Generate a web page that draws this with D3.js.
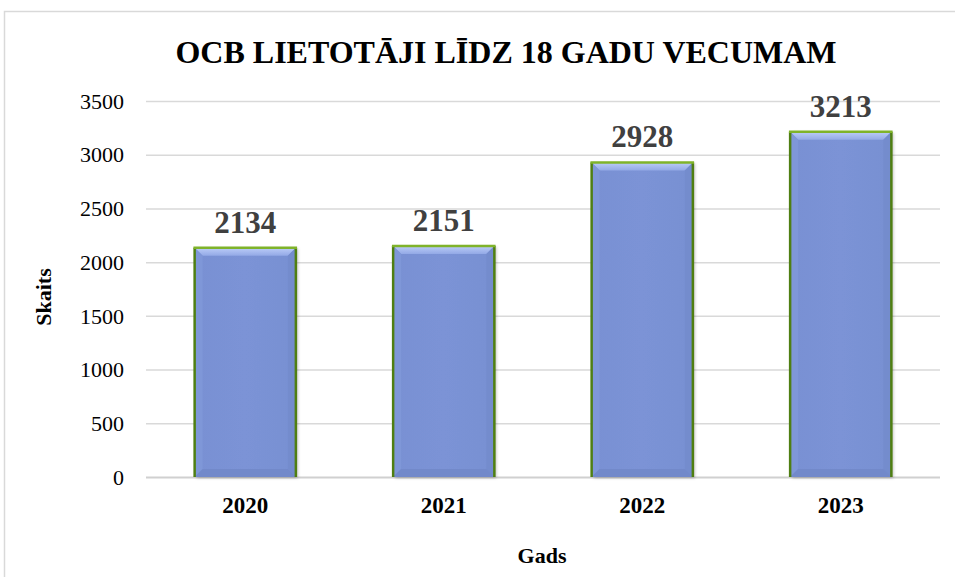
<!DOCTYPE html>
<html>
<head>
<meta charset="utf-8">
<script src="https://cdn.jsdelivr.net/npm/d3@7"></script>
<style>
  html, body { margin: 0; padding: 0; background: #fff; }
  svg { display: block; }
  text { font-family: "Times New Roman", "Liberation Serif", serif; }
</style>
</head>
<body>
<svg id="chart" width="955" height="577"></svg>
<script>
const title = "OCB LIETOTĀJI LĪDZ 18 GADU VECUMAM";
const categories = ["2020", "2021", "2022", "2023"];
const values = [2134, 2151, 2928, 3213];
const yTicks = [0, 500, 1000, 1500, 2000, 2500, 3000, 3500];
const yTitle = "Skaits";
const xTitle = "Gads";

const svg = d3.select("#chart");
const plot = { left: 146, right: 940, top: 101, bottom: 477 };

// chart border
svg.append("rect").attr("x", 4.5).attr("y", 11.5).attr("width", 1000).attr("height", 700)
  .attr("fill", "#fff").attr("stroke", "#d9d9d9").attr("stroke-width", 1.5);

const x = d3.scaleBand().domain(categories).range([plot.left, plot.right])
  .paddingInner(0.49).paddingOuter(0.245);
const y = d3.scaleLinear().domain([0, 3500]).range([plot.bottom, plot.top]);

// defs
const defs = svg.append("defs");
const gTop = defs.append("linearGradient").attr("id", "gTop").attr("x1", 0).attr("y1", 0).attr("x2", 0).attr("y2", 1);
gTop.append("stop").attr("offset", "0%").attr("stop-color", "#bccdf8");
gTop.append("stop").attr("offset", "100%").attr("stop-color", "#93a9e6");
const gBody = defs.append("linearGradient").attr("id", "gBody").attr("x1", 0).attr("y1", 0).attr("x2", 1).attr("y2", 0);
gBody.append("stop").attr("offset", "0%").attr("stop-color", "#7990d3");
gBody.append("stop").attr("offset", "50%").attr("stop-color", "#7b93d6");
gBody.append("stop").attr("offset", "100%").attr("stop-color", "#7890d2");
const shadow = defs.append("filter").attr("id", "shadow").attr("x", "-10%").attr("y", "-10%").attr("width", "130%").attr("height", "130%");
shadow.append("feDropShadow").attr("dx", 2).attr("dy", 1).attr("stdDeviation", 1.5).attr("flood-color", "#000").attr("flood-opacity", 0.25);

// y axis with gridlines
const yAxis = d3.axisLeft(y).tickValues(yTicks).tickSize(0).tickPadding(0).tickFormat(d3.format("d"));
const yg = svg.append("g").attr("transform", `translate(${plot.left},0)`).call(yAxis);
yg.select(".domain").remove();
yg.selectAll(".tick text").attr("x", -22).attr("dy", "0.33em")
  .attr("font-size", 22).attr("fill", "#000")
  .style("font-family", '"Times New Roman", "Liberation Serif", serif');
yg.selectAll(".tick").append("line")
  .attr("x1", 0).attr("x2", plot.right - plot.left)
  .attr("stroke", d => d === 0 ? "#d0d0d0" : "#d9d9d9")
  .attr("stroke-width", d => d === 0 ? 2 : 1.5);

// bars
const b = 8;
const bars = svg.append("g").selectAll("g.bar").data(values).join("g").attr("class", "bar");
bars.each(function(v, i) {
  const g = d3.select(this);
  const x0 = x(categories[i]), w = x.bandwidth();
  const y0 = y(v), y1 = y(0);
  g.append("rect").attr("x", x0).attr("y", y0).attr("width", w).attr("height", y1 - y0)
    .attr("fill", "url(#gBody)").attr("filter", "url(#shadow)");
  // bevels
  g.append("path").attr("d", `M${x0},${y0}L${x0 + w},${y0}L${x0 + w - b},${y0 + b}L${x0 + b},${y0 + b}Z`)
    .attr("fill", "url(#gTop)");
  g.append("path").attr("d", `M${x0},${y0}L${x0 + b},${y0 + b}L${x0 + b},${y1 - b}L${x0},${y1}Z`)
    .attr("fill", "#7f97d8");
  g.append("path").attr("d", `M${x0 + w},${y0}L${x0 + w - b},${y0 + b}L${x0 + w - b},${y1 - b}L${x0 + w},${y1}Z`)
    .attr("fill", "#748ccd");
  g.append("path").attr("d", `M${x0},${y1}L${x0 + b},${y1 - b}L${x0 + w - b},${y1 - b}L${x0 + w},${y1}Z`)
    .attr("fill", "#7289ca");
  // outline
  g.append("line").attr("x1", x0).attr("x2", x0).attr("y1", y0).attr("y2", y1)
    .attr("stroke", "#4f7f12").attr("stroke-width", 2.5);
  g.append("line").attr("x1", x0 + w).attr("x2", x0 + w).attr("y1", y0).attr("y2", y1)
    .attr("stroke", "#4f7f12").attr("stroke-width", 2.5);
  g.append("line").attr("x1", x0 - 1.2).attr("x2", x0 + w + 1.2).attr("y1", y0).attr("y2", y0)
    .attr("stroke", "#7fb32a").attr("stroke-width", 2.5);
});

// value labels
svg.append("g").selectAll("text").data(values).join("text")
  .attr("x", (d, i) => x(categories[i]) + x.bandwidth() / 2)
  .attr("y", d => y(d) - 15)
  .attr("text-anchor", "middle")
  .attr("font-size", 31).attr("font-weight", "bold").attr("fill", "#404040")
  .text(d => d);

// x axis labels
const xAxis = d3.axisBottom(x).tickSize(0).tickPadding(0);
const xg = svg.append("g").attr("transform", `translate(0,${plot.bottom})`).call(xAxis);
xg.select(".domain").remove();
xg.selectAll(".tick text").attr("y", 36).attr("dy", 0)
  .attr("font-size", 23).attr("font-weight", "bold").attr("fill", "#000")
  .style("font-family", '"Times New Roman", "Liberation Serif", serif');

// title
svg.append("text").attr("x", 506).attr("y", 63).attr("text-anchor", "middle")
  .attr("font-size", 32).attr("font-weight", "bold").attr("fill", "#000")
  .text(title);

// axis titles
svg.append("text").attr("transform", "translate(51,297) rotate(-90)")
  .attr("text-anchor", "middle").attr("font-size", 22).attr("font-weight", "bold").attr("fill", "#000")
  .text(yTitle);
svg.append("text").attr("x", 542).attr("y", 563).attr("text-anchor", "middle")
  .attr("font-size", 22).attr("font-weight", "bold").attr("fill", "#000")
  .text(xTitle);
</script>
</body>
</html>
